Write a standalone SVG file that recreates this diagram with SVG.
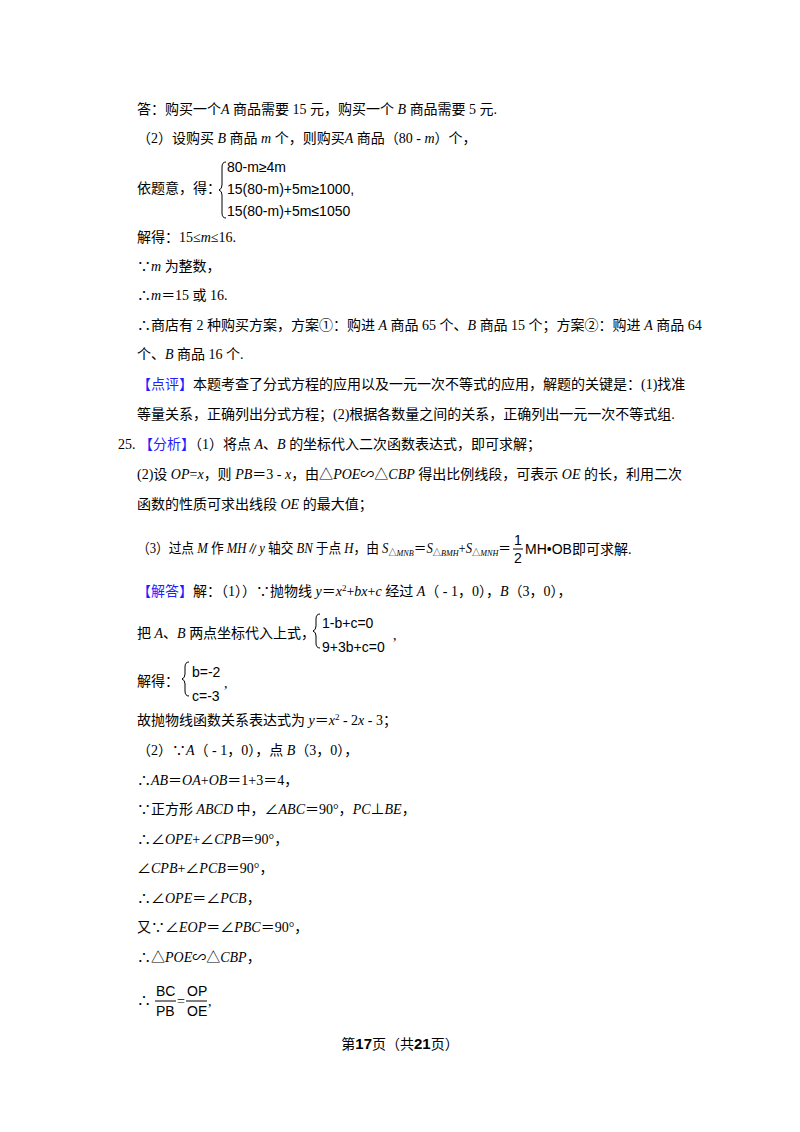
<svg xmlns="http://www.w3.org/2000/svg" width="800" height="1132" viewBox="0 0 800 1132">
<style>
text{font-family:"Liberation Serif","Noto Sans CJK SC",serif;font-size:14px;fill:#000}
.i{font-style:italic}
.b{fill:#1f1fff}
.m{font-family:"Liberation Sans Narrow","Liberation Sans","DejaVu Sans Condensed",sans-serif;font-size:14px}
.s{font-size:9px}
.br{fill:none;stroke:#000;stroke-width:1}
</style>
<rect width="800" height="1132" fill="#fff"/>
<g id="part24">
<text x="137" y="114">答：购买一个<tspan class="i">A</tspan> 商品需要 15 元，购买一个 <tspan class="i">B</tspan> 商品需要 5 元.</text>
<text x="137" y="143">（2）设购买 <tspan class="i">B</tspan> 商品 <tspan class="i">m</tspan> 个，则购买<tspan class="i">A</tspan> 商品（80 - <tspan class="i">m</tspan>）个，</text>
<text x="137" y="193">依题意，得：</text>
<path class="br" d="M226,162 q-4,0 -4,5 v18 q0,4 -3,5 q3,1 3,5 v18 q0,5 4,5"/>
<text class="m" x="227" y="172">80-m≥4m</text>
<text class="m" x="227" y="194">15(80-m)+5m≥1000,</text>
<text class="m" x="227" y="216">15(80-m)+5m≤1050</text>
<text x="137" y="242">解得：15≤<tspan class="i">m</tspan>≤16.</text>
<text x="137" y="271">∵<tspan class="i">m</tspan> 为整数，</text>
<text x="137" y="300">∴<tspan class="i">m</tspan>＝15 或 16.</text>
<text x="137" y="330">∴商店有 2 种购买方案，方案①：购进 <tspan class="i">A</tspan> 商品 65 个、<tspan class="i">B</tspan> 商品 15 个；方案②：购进 <tspan class="i">A</tspan> 商品 64</text>
<text x="137" y="359">个、<tspan class="i">B</tspan> 商品 16 个.</text>
<text x="137" y="389"><tspan class="b">【点评】</tspan>本题考查了分式方程的应用以及一元一次不等式的应用，解题的关键是：(1)找准</text>
<text x="137" y="419">等量关系，正确列出分式方程；(2)根据各数量之间的关系，正确列出一元一次不等式组.</text>
</g>
<g id="part25">
<text x="118" y="449">25. <tspan class="b">【分析】</tspan>（1）将点 <tspan class="i">A</tspan>、<tspan class="i">B</tspan> 的坐标代入二次函数表达式，即可求解；</text>
<text x="137" y="479">(2)设 <tspan class="i">OP</tspan>=<tspan class="i">x</tspan>，则 <tspan class="i">PB</tspan>＝3 - <tspan class="i">x</tspan>，由△<tspan class="i">POE</tspan>∽△<tspan class="i">CBP</tspan> 得出比例线段，可表示 <tspan class="i">OE</tspan> 的长，利用二次</text>
<text x="137" y="509">函数的性质可求出线段 <tspan class="i">OE</tspan> 的最大值；</text>
<text x="137" y="553" textLength="374" lengthAdjust="spacingAndGlyphs">（3）过点 <tspan class="i">M</tspan> 作 <tspan class="i">MH</tspan>∥<tspan class="i">y</tspan> 轴交 <tspan class="i">BN</tspan> 于点 <tspan class="i">H</tspan>，由 <tspan class="i">S</tspan><tspan class="s" dy="3">△<tspan class="i">MNB</tspan></tspan><tspan dy="-3">＝</tspan><tspan class="i">S</tspan><tspan class="s" dy="3">△<tspan class="i">BMH</tspan></tspan><tspan dy="-3">+</tspan><tspan class="i">S</tspan><tspan class="s" dy="3">△<tspan class="i">MNH</tspan></tspan><tspan dy="-3">＝</tspan></text>
<text class="m" x="514" y="545" font-size="15">1</text>
<line x1="513" y1="549" x2="523" y2="549" stroke="#000"/>
<text class="m" x="514" y="563" font-size="15">2</text>
<text x="525" y="554"><tspan class="m">MH•OB</tspan>即可求解.</text>
<text x="137" y="596"><tspan class="b">【解答】</tspan>解：（1））∵抛物线 <tspan class="i">y</tspan>＝<tspan class="i">x</tspan><tspan class="s" dy="-5">2</tspan><tspan dy="5">+</tspan><tspan class="i">bx</tspan>+<tspan class="i">c</tspan> 经过 <tspan class="i">A</tspan>（ - 1，0），<tspan class="i">B</tspan>（3，0），</text>
<text x="137" y="638">把 <tspan class="i">A</tspan>、<tspan class="i">B</tspan> 两点坐标代入上式，</text>
<path class="br" d="M320,614 q-4,0 -4,5 v7 q0,4 -3,5 q3,1 3,5 v7 q0,5 4,5"/>
<text class="m" x="322" y="628">1-b+c=0</text>
<text class="m" x="322" y="652">9+3b+c=0</text>
<text x="393" y="640">,</text>
<text x="137" y="686">解得：</text>
<path class="br" d="M189,662 q-4,0 -4,5 v7 q0,4 -3,5 q3,1 3,5 v7 q0,5 4,5"/>
<text class="m" x="192" y="677">b=-2</text>
<text class="m" x="192" y="701">c=-3</text>
<text x="224" y="688">,</text>
<text x="137" y="725">故抛物线函数关系表达式为 <tspan class="i">y</tspan>＝<tspan class="i">x</tspan><tspan class="s" dy="-5">2</tspan><tspan dy="5"> - 2</tspan><tspan class="i">x</tspan> - 3；</text>
<text x="137" y="755">（2）∵<tspan class="i">A</tspan>（ - 1，0），点 <tspan class="i">B</tspan>（3，0），</text>
<text x="137" y="785">∴<tspan class="i">AB</tspan>＝<tspan class="i">OA</tspan>+<tspan class="i">OB</tspan>＝1+3＝4，</text>
<text x="137" y="814">∵正方形 <tspan class="i">ABCD</tspan> 中，∠<tspan class="i">ABC</tspan>＝90°，<tspan class="i">PC</tspan>⊥<tspan class="i">BE</tspan>，</text>
<text x="137" y="844">∴∠<tspan class="i">OPE</tspan>+∠<tspan class="i">CPB</tspan>＝90°，</text>
<text x="137" y="873">∠<tspan class="i">CPB</tspan>+∠<tspan class="i">PCB</tspan>＝90°，</text>
<text x="137" y="903">∴∠<tspan class="i">OPE</tspan>＝∠<tspan class="i">PCB</tspan>，</text>
<text x="137" y="932">又∵∠<tspan class="i">EOP</tspan>＝∠<tspan class="i">PBC</tspan>＝90°，</text>
<text x="137" y="962">∴△<tspan class="i">POE</tspan>∽△<tspan class="i">CBP</tspan>，</text>
<text x="137" y="1005">∴</text>
<text class="m" x="156" y="996">BC</text>
<line x1="155" y1="1001" x2="176" y2="1001" stroke="#000"/>
<text class="m" x="156" y="1016">PB</text>
<text x="177" y="1006">=</text>
<text class="m" x="187" y="996">OP</text>
<line x1="186" y1="1001" x2="207" y2="1001" stroke="#000"/>
<text class="m" x="187" y="1016">OE</text>
<text x="208" y="1006">,</text>
</g>
<g id="footer">
<text x="400" y="1049" text-anchor="middle" font-size="12">第<tspan font-weight="bold" font-size="15" font-family="Liberation Sans">17</tspan>页（共<tspan font-weight="bold" font-size="15" font-family="Liberation Sans">21</tspan>页）</text>
</g>
</svg>
